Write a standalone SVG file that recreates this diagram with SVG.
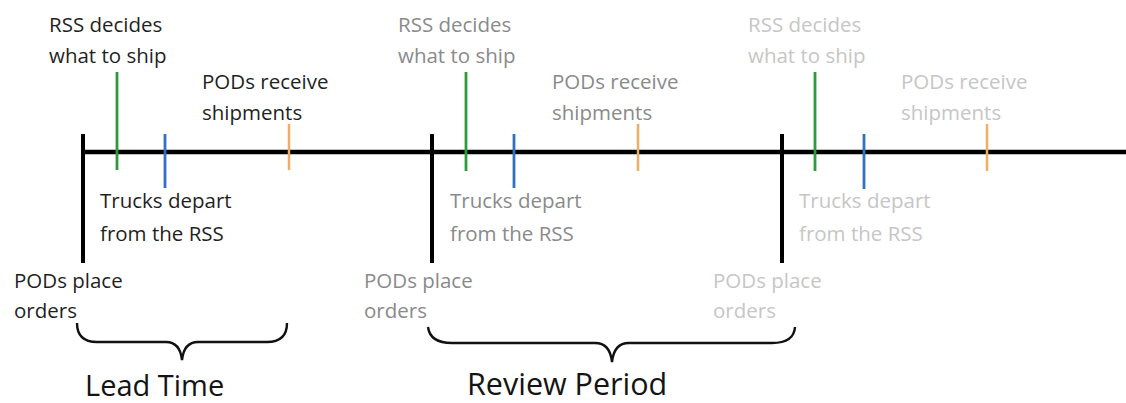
<svg xmlns="http://www.w3.org/2000/svg" width="1126" height="403" viewBox="0 0 1126 403">
<style>
text{font-family:"Open Sans","Liberation Sans",sans-serif;font-size:20.5px}
.c1{fill:#1f1f1f}
.c2{fill:#8a8a8a}
.c3{fill:#c6c6c6}
.big{font-size:29px;fill:#141414}
.axis{stroke:#000;stroke-width:4.5;fill:none}
.bar{stroke:#000;stroke-width:4;fill:none}
.g{stroke:#2f9a3c;stroke-width:2.8}
.b{stroke:#2f72c2;stroke-width:2.8}
.o{stroke:#f2ac63;stroke-width:2.5}
.brace{stroke:#111;stroke-width:2.4;fill:none}
</style>
<rect width="1126" height="403" fill="#fff"/>
<g id="connectors">
<line class="axis" x1="83" y1="152" x2="1126" y2="152"/>
<line class="bar" x1="83" y1="134" x2="83" y2="263"/>
<line class="bar" x1="432" y1="134" x2="432" y2="263"/>
<line class="bar" x1="782" y1="134" x2="782" y2="263"/>
<line class="g" x1="117" y1="72" x2="117" y2="170"/>
<line class="g" x1="466" y1="72" x2="466" y2="171"/>
<line class="g" x1="815" y1="72" x2="815" y2="171"/>
<line class="b" x1="165" y1="134" x2="165" y2="188"/>
<line class="b" x1="514" y1="134" x2="514" y2="188"/>
<line class="b" x1="864" y1="134" x2="864" y2="189"/>
<line class="o" x1="289" y1="124" x2="289" y2="170"/>
<line class="o" x1="638" y1="124" x2="638" y2="171"/>
<line class="o" x1="987" y1="124" x2="987" y2="171"/>
<path class="brace" d="M77,323 Q77,342 97,342 L166,342 Q180,342 182,360 Q184,342 198,342 L267,342 Q287,342 287,323"/>
<path class="brace" d="M428,327 Q430,343 452,343 L595,343 Q610,343 612,362 Q614,343 629,343 L772,343 Q794,343 795,327"/>
</g>
<g id="rss-decides-1"><text class="c1" x="49" y="32">RSS decides</text><text class="c1" x="49" y="63">what to ship</text></g>
<g id="pods-receive-1"><text class="c1" x="202" y="89">PODs receive</text><text class="c1" x="202" y="120">shipments</text></g>
<g id="trucks-depart-1"><text class="c1" x="100" y="208">Trucks depart</text><text class="c1" x="100" y="241">from the RSS</text></g>
<g id="pods-place-1"><text class="c1" x="14" y="288">PODs place</text><text class="c1" x="14" y="318">orders</text></g>
<g id="rss-decides-2"><text class="c2" x="398" y="32">RSS decides</text><text class="c2" x="398" y="63">what to ship</text></g>
<g id="pods-receive-2"><text class="c2" x="552" y="89">PODs receive</text><text class="c2" x="552" y="120">shipments</text></g>
<g id="trucks-depart-2"><text class="c2" x="450" y="208">Trucks depart</text><text class="c2" x="450" y="241">from the RSS</text></g>
<g id="pods-place-2"><text class="c2" x="364" y="288">PODs place</text><text class="c2" x="364" y="318">orders</text></g>
<g id="rss-decides-3"><text class="c3" x="748" y="32">RSS decides</text><text class="c3" x="748" y="63">what to ship</text></g>
<g id="pods-receive-3"><text class="c3" x="901" y="89">PODs receive</text><text class="c3" x="901" y="120">shipments</text></g>
<g id="trucks-depart-3"><text class="c3" x="799" y="208">Trucks depart</text><text class="c3" x="799" y="241">from the RSS</text></g>
<g id="pods-place-3"><text class="c3" x="713" y="288">PODs place</text><text class="c3" x="713" y="318">orders</text></g>
<g id="lead-time"><text class="big" x="85" y="396">Lead Time</text></g>
<g id="review-period"><text class="big" x="467" y="395" style="font-size:30.5px">Review Period</text></g>
</svg>
